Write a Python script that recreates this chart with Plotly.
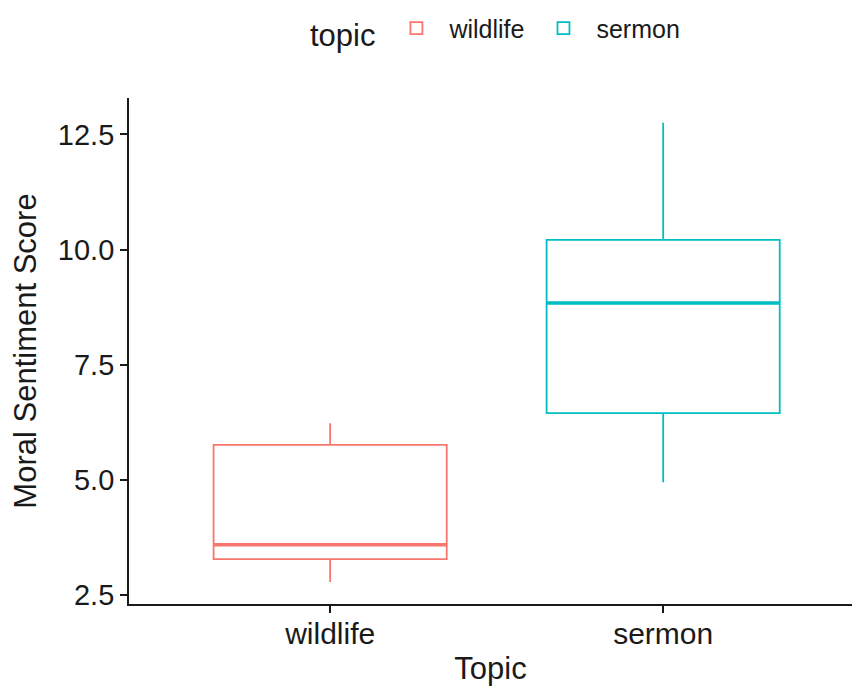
import plotly.graph_objects as go

topics = ["wildlife", "sermon"]
colors = ["#F8766D", "#00BFC4"]
lower_whisker = [2.78, 4.95]
q1_vals = [3.28, 6.45]
median_vals = [3.59, 8.84]
q3_vals = [5.76, 10.21]
upper_whisker = [6.23, 12.75]
y_ticks = [2.5, 5.0, 7.5, 10.0, 12.5]
y_tick_labels = ["2.5", "5.0", "7.5", "10.0", "12.5"]

box_width = 0.70

fig = go.Figure()
for i, t in enumerate(topics):
    fig.add_trace(go.Box(
        x=[i], q1=[q1_vals[i]], median=[median_vals[i]], q3=[q3_vals[i]],
        lowerfence=[lower_whisker[i]], upperfence=[upper_whisker[i]],
        name=t, width=box_width, whiskerwidth=0,
        line=dict(color=colors[i], width=1.8),
        fillcolor="rgba(255,255,255,0)",
        boxpoints=False, hoverinfo="skip", legendgroup=t,
    ))
    # thicker median line (ggplot fatten)
    fig.add_trace(go.Scatter(
        x=[i - box_width / 2, i + box_width / 2],
        y=[median_vals[i], median_vals[i]],
        mode="lines", line=dict(color=colors[i], width=3.6),
        showlegend=False, hoverinfo="skip", legendgroup=t,
    ))

font_family = "Liberation Sans, Arial, sans-serif"
ink = "#1a1a1a"

fig.update_layout(
    width=853, height=686,
    margin=dict(l=129, r=1, t=98, b=82),
    plot_bgcolor="white", paper_bgcolor="white",
    font=dict(family=font_family, color=ink),
    boxmode="overlay",
    showlegend=True,
    legend=dict(
        orientation="h", x=0.582, xanchor="center", y=0.955, yanchor="middle",
        xref="container", yref="container",
        title=dict(text="topic", font=dict(size=31, color=ink)),
        font=dict(size=25, color=ink),
        itemwidth=56,
    ),
    xaxis=dict(
        range=[-0.604, 1.567],
        tickmode="array", tickvals=list(range(len(topics))), ticktext=topics,
        showline=True, linecolor=ink, linewidth=1.8,
        ticks="outside", ticklen=7, tickwidth=1.6, tickcolor=ink,
        showgrid=False, zeroline=False,
        tickfont=dict(size=30, color=ink),
        ticklabelstandoff=-5,
        title=dict(text="Topic", font=dict(size=31, color=ink), standoff=9),
    ),
    yaxis=dict(
        range=[2.305, 13.29],
        tickmode="array", tickvals=y_ticks, ticktext=y_tick_labels,
        showline=True, linecolor=ink, linewidth=1.8,
        ticks="outside", ticklen=7, tickwidth=1.6, tickcolor=ink,
        showgrid=False, zeroline=False,
        tickfont=dict(size=29, color=ink),
        title=dict(text="Moral Sentiment Score", font=dict(size=31, color=ink), standoff=12),
    ),
)

fig.write_html("out.html")
